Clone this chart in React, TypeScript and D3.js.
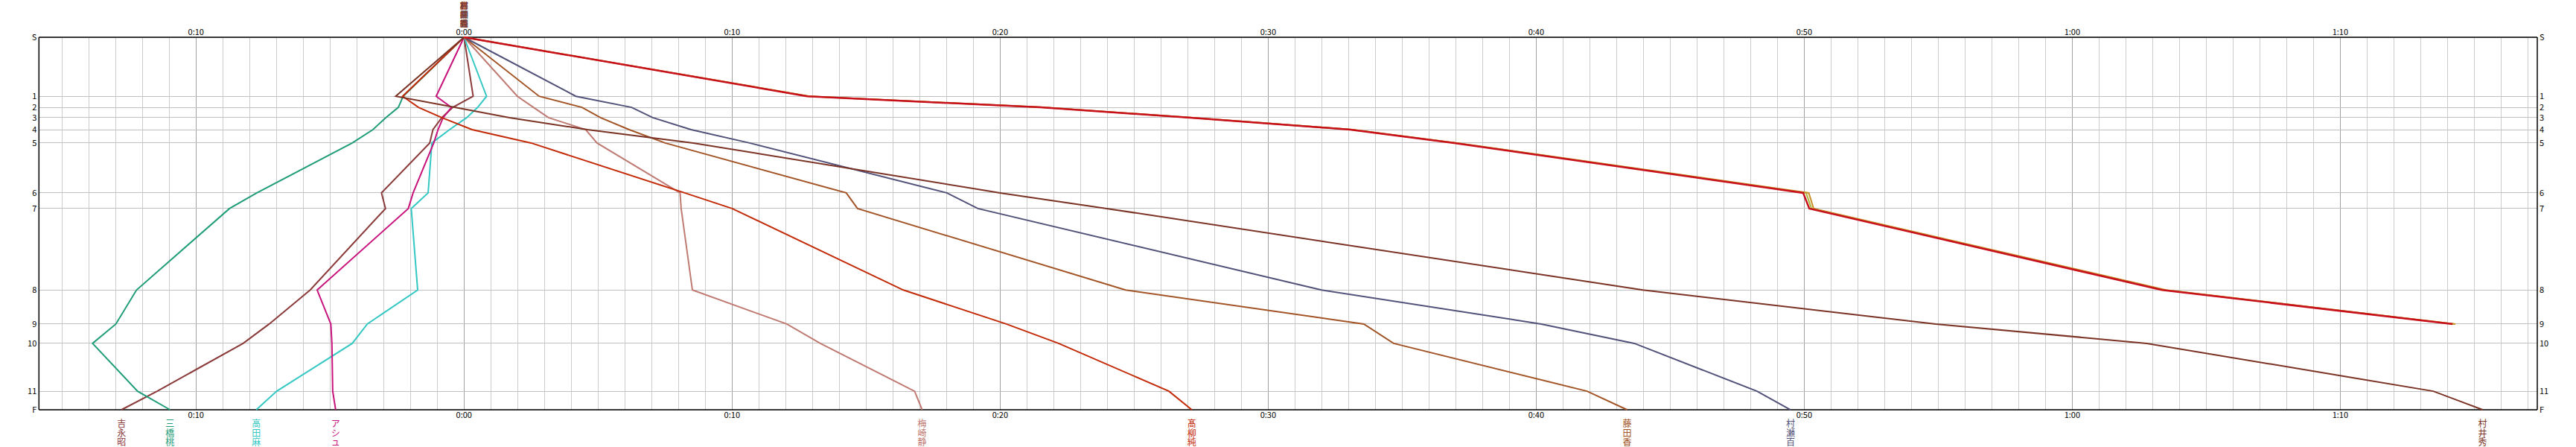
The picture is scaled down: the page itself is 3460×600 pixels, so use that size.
import React from "react";
import * as d3 from "d3";

// Station labels and relative positions (percent of course, S..F)
const stations = ["S", "1", "2", "3", "4", "5", "6", "7", "8", "9", "10", "11", "F"];
const stationPos = [0, 15.84, 18.82, 21.58, 24.8, 28.38, 41.78, 45.98, 67.86, 76.98, 82.18, 95.02, 100];

// Time difference (minutes) at each station
const names = ["吉永昭", "三橋桃", "高田麻", "アシュ", "梅崎静", "髙柳純", "藤田香", "村瀬百", "村井秀", "", "", ""];
const colors = ["#8b3a3a", "#1f9c78", "#33c8c4", "#c8127c", "#bf7a72", "#c32a08", "#a35426", "#515179", "#7b3325", "#a8b840", "#c89028", "#c8101c"];
const yoshinaga = [0, 0.34, -0.42, -0.83, -1.16, -1.28, -3.08, -2.93, -5.74, -7.27, -8.24, -11.45, -12.78];
const mitsuhashi = [0, -2.27, -2.45, -2.92, -3.4, -4.17, -7.73, -8.75, -12.22, -12.99, -13.86, -12.18, -10.97];
const takada = [0, 0.84, 0.51, 0.1, -0.54, -1.2, -1.34, -1.97, -1.73, -3.61, -4.17, -6.99, -7.75];
const ashu = [0, -1.04, -0.47, -0.78, -0.97, -1.13, -1.9, -2.08, -5.48, -4.97, -4.93, -4.9, -4.79];
const umezaki = [0, 1.99, 2.59, 3.15, 4.54, 4.96, 8.06, 8.1, 8.52, 12.04, 13.29, 16.81, 17.09];
const takayanagi = [0, -2.29, -1.7, -0.83, 0.3, 2.5, 8.23, 10.0, 16.39, 20.23, 22.18, 26.3, 27.15];
const fujita = [0, 2.8, 4.4, 5.09, 6.16, 7.5, 14.26, 14.68, 24.68, 33.57, 34.68, 41.9, 43.39];
const murase = [0, 4.17, 6.25, 7.04, 8.47, 10.65, 18.01, 19.17, 31.99, 40.19, 43.66, 48.24, 49.49];
const murai = [0, -2.55, -0.35, 1.7, 4.6, 8.55, 20.0, 23.98, 43.98, 54.91, 62.78, 73.47, 75.31];
const olive = [0, 12.85, 21.55, 27.15, 33.1, 37.0, 50.07, 50.27, 63.42, 74.25];
const gold = [0, 12.9, 21.6, 27.2, 33.15, 37.05, 50.17, 50.35, 63.5, 74.3];
const red = [0, 12.8, 21.5, 27.1, 33.06, 36.94, 49.96, 50.19, 63.35, 74.19];
const series = [yoshinaga, mitsuhashi, takada, ashu, umezaki, takayanagi, fujita, murase, murai, olive, gold, red];

const timeDomain = [-15.86, 77.35];
const majorTicks = [-10, 0, 10, 20, 30, 40, 50, 60, 70];

const W = 3460;
const H = 600;

function fmt(m: number) {
  const a = Math.abs(m);
  const h = Math.floor(a / 60);
  const mm = Math.round(a % 60);
  return `${h}:${mm < 10 ? "0" : ""}${mm}`;
}

export default function App() {
  const x = d3.scaleLinear().domain(timeDomain).range([52.3, 3408]);
  const y = d3.scaleLinear().domain([0, 100]).range([50, 550]);
  const minutes = d3.range(Math.ceil(timeDomain[0]), Math.floor(timeDomain[1]) + 1);
  const line = d3
    .line<[number, number]>()
    .x((d) => x(d[0]))
    .y((d) => y(d[1]));
  const font = "'Noto Sans CJK JP', 'Noto Sans', sans-serif";

  return (
    <svg width={W} height={H} style={{ position: "absolute", left: 0, top: 0, background: "#fff" }} fontFamily={font}>
      <rect x={0} y={0} width={W} height={H} fill="#fff" />
      {/* vertical grid */}
      {minutes.map((m) => (
        <line
          key={"v" + m}
          x1={x(m)}
          x2={x(m)}
          y1={y(0)}
          y2={y(100)}
          stroke={m % 10 === 0 ? "#a0a0a0" : "#cccccc"}
          strokeWidth={1}
          shapeRendering="crispEdges"
        />
      ))}
      {/* horizontal station grid */}
      {stationPos.map((p, i) => (
        <line
          key={"h" + i}
          x1={x(timeDomain[0])}
          x2={x(timeDomain[1])}
          y1={y(p)}
          y2={y(p)}
          stroke="#c0c0c0"
          strokeWidth={1}
          shapeRendering="crispEdges"
        />
      ))}
      {/* frame */}
      <line x1={x(timeDomain[0])} x2={x(timeDomain[1])} y1={y(0)} y2={y(0)} stroke="#000" strokeWidth={1.5} />
      <line x1={x(timeDomain[0])} x2={x(timeDomain[1])} y1={y(100)} y2={y(100)} stroke="#000" strokeWidth={1.5} />
      <line x1={x(timeDomain[0])} x2={x(timeDomain[0])} y1={y(0)} y2={y(100)} stroke="#000" strokeWidth={1.5} />
      <line x1={x(timeDomain[1])} x2={x(timeDomain[1])} y1={y(0)} y2={y(100)} stroke="#000" strokeWidth={1.5} />
      {/* tick labels */}
      {majorTicks.map((t) => (
        <g key={"t" + t}>
          <text x={x(t)} y={y(0) - 3} textAnchor="middle" fontSize={11} fill="#000">
            {fmt(t)}
          </text>
          <text x={x(t)} y={y(100) + 11} textAnchor="middle" fontSize={11} fill="#000">
            {fmt(t)}
          </text>
        </g>
      ))}
      {/* station labels */}
      {stations.map((s, i) => (
        <g key={"s" + i}>
          <text x={x(timeDomain[0]) - 3} y={y(stationPos[i]) + 4} textAnchor="end" fontSize={11} fill="#000">
            {s}
          </text>
          <text x={x(timeDomain[1]) + 3} y={y(stationPos[i]) + 4} textAnchor="start" fontSize={11} fill="#000">
            {s}
          </text>
        </g>
      ))}
      {/* series lines */}
      {series.map((vals, k) => (
        <path
          key={"l" + k}
          d={line(vals.map((v, i) => [v, stationPos[i]] as [number, number])) || ""}
          fill="none"
          stroke={colors[k]}
          strokeWidth={k === series.length - 1 ? 2.5 : 2}
          strokeLinejoin="miter"
        />
      ))}
      {/* top names (overlapping at start) */}
      {names.map((n, k) =>
        n
          ? n.split("").map((ch, j) => (
              <text
                key={"tn" + k + "_" + j}
                x={x(0)}
                y={12 + j * 12}
                textAnchor="middle"
                fontSize={11}
                fill={colors[k]}
                opacity={0.85}
              >
                {ch}
              </text>
            ))
          : null
      )}
      {/* finish names */}
      {names.map((n, k) => {
        const vals = series[k];
        if (!n || vals.length < stations.length) return null;
        const fx = x(vals[vals.length - 1]);
        return n.split("").map((ch, j) => (
          <text key={"fn" + k + "_" + j} x={fx} y={573 + j * 12.5} textAnchor="middle" fontSize={12} fill={colors[k]}>
            {ch}
          </text>
        ));
      })}
    </svg>
  );
}
